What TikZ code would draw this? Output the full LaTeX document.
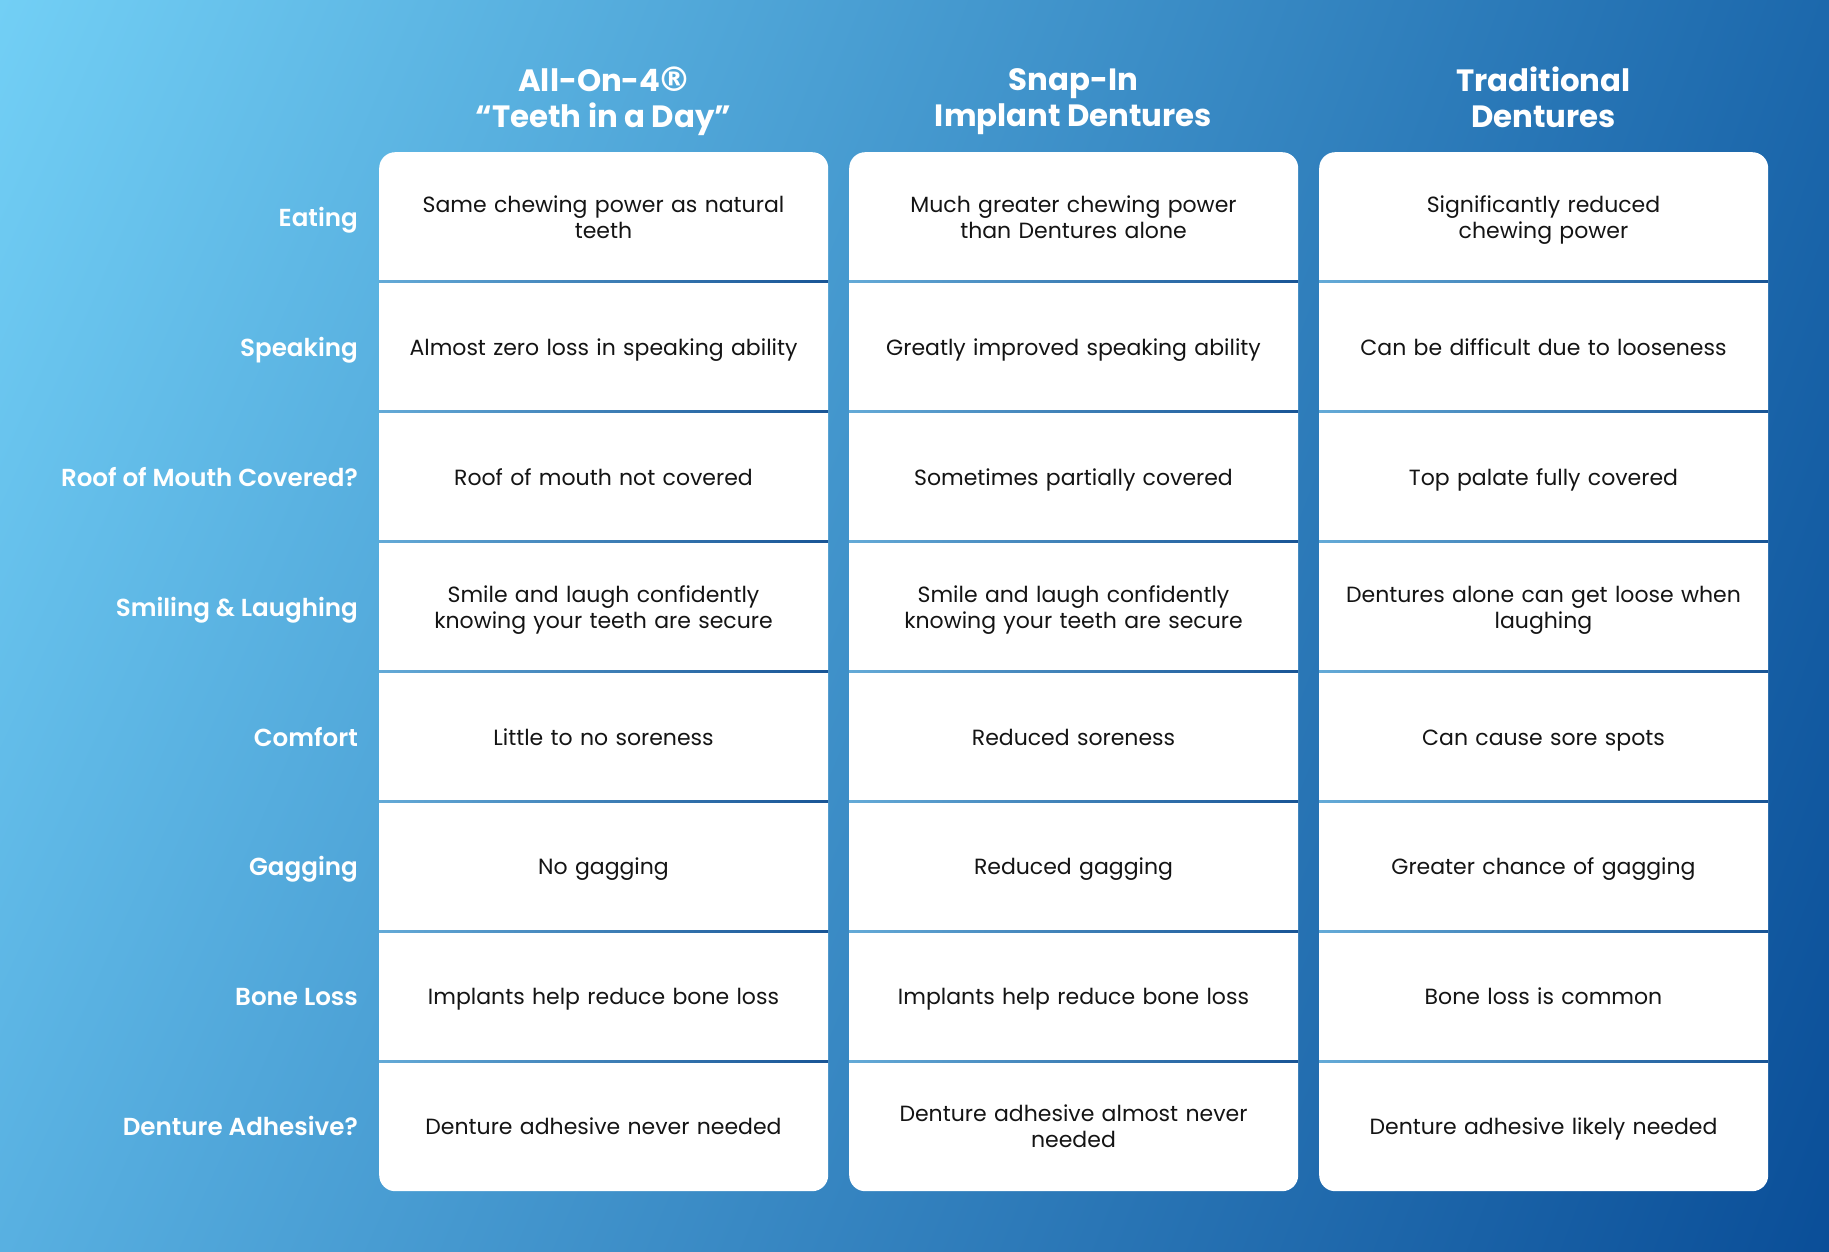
\documentclass[tikz,border=0pt]{standalone}
\usepackage{fontspec}
\setmainfont{Poppins}
\newfontfamily\semifont{Poppins SemiBold}
\newfontfamily\dejavu{DejaVu Sans}
\usetikzlibrary{shadings}
\definecolor{bgTL}{RGB}{114,207,245}
\definecolor{bgTR}{RGB}{28,104,172}
\definecolor{bgBL}{RGB}{88,176,225}
\definecolor{bgBR}{RGB}{10,78,152}
\definecolor{sepL}{RGB}{100,170,215}
\definecolor{sepR}{RGB}{25,85,150}
\definecolor{celltext}{RGB}{20,20,20}
\begin{document}
\begin{tikzpicture}[x=1pt,y=-1pt,
  cell/.style={text width=430pt, align=center, inner sep=0pt, font=\fontsize{22}{26}\selectfont, text=celltext, execute at begin node=\strut, execute at end node=\strut},
  lab/.style={anchor=east, inner sep=0pt, text=white, font=\fontsize{24.6}{30}\selectfont\semifont, execute at begin node=\strut},
  head/.style={align=center, inner sep=0pt, text=white, font=\fontsize{30.8}{36}\selectfont\bfseries, execute at begin node=\strut, execute at end node=\strut},
  card/.style={fill=white, rounded corners=16pt, draw=none, inner sep=0pt, anchor=north west, minimum width=449pt, minimum height=1039pt},
  sepline/.style={left color=sepL, right color=sepR, draw=none}]
\shade[upper left=bgTL, upper right=bgTR, lower left=bgBL, lower right=bgBR] (0,0) rectangle (1829,1252);
\useasboundingbox (0,0) rectangle (1829,1252);
% cards
\node[card] (card1) at (379,152) {};
\node[card] (card2) at (849,152) {};
\node[card] (card3) at (1319,152) {};
% separators
\foreach \x in {379,849,1319}{
  \foreach \i in {1,...,7}{
    \pgfmathsetmacro{\yy}{152+129.875*\i}
    \shade[sepline] (\x,\yy-1) rectangle (\x+449,\yy+1);
  }
}
% headers
\node[head] (h1) at (603.5,102.5) {All-On-4\kern-3pt{\dejavu\bfseries\fontsize{34}{36}\selectfont ®}\kern-3pt\\“Teeth in a Day”};
\node[head] (h2) at (1073.5,102.5) {Snap-In\\Implant Dentures};
\node[head] (h3) at (1543.5,102.5) {Traditional\\Dentures};
% labels
\node[lab] (l1) at (358,220.5) {Eating};
\node[lab] (l2) at (358,350.5) {Speaking};
\node[lab] (l3) at (358,480.5) {Roof of Mouth Covered?};
\node[lab] (l4) at (358,610.5) {Smiling \& Laughing};
\node[lab] (l5) at (358,740.5) {Comfort};
\node[lab] (l6) at (358,869.5) {Gagging};
\node[lab] (l7) at (358,999.5) {Bone Loss};
\node[lab] (l8) at (358,1129.5) {Denture Adhesive?};
% column 1
\node[cell] (a1) at (603.5,220.5) {Same chewing power as natural\\teeth};
\node[cell] (a2) at (603.5,350.5) {Almost zero loss in speaking ability};
\node[cell] (a3) at (603.5,480.5) {Roof of mouth not covered};
\node[cell] (a4) at (603.5,610.5) {Smile and laugh confidently\\knowing your teeth are secure};
\node[cell] (a5) at (603.5,740.5) {Little to no soreness};
\node[cell] (a6) at (603.5,869.5) {No gagging};
\node[cell] (a7) at (603.5,999.5) {Implants help reduce bone loss};
\node[cell] (a8) at (603.5,1129.5) {Denture adhesive never needed};
% column 2
\node[cell] (b1) at (1073.5,220.5) {Much greater chewing power\\than Dentures alone};
\node[cell] (b2) at (1073.5,350.5) {Greatly improved speaking ability};
\node[cell] (b3) at (1073.5,480.5) {Sometimes partially covered};
\node[cell] (b4) at (1073.5,610.5) {Smile and laugh confidently\\knowing your teeth are secure};
\node[cell] (b5) at (1073.5,740.5) {Reduced soreness};
\node[cell] (b6) at (1073.5,869.5) {Reduced gagging};
\node[cell] (b7) at (1073.5,999.5) {Implants help reduce bone loss};
\node[cell] (b8) at (1073.5,1129.5) {Denture adhesive almost never\\needed};
% column 3
\node[cell] (c1) at (1543.5,220.5) {Significantly reduced\\chewing power};
\node[cell] (c2) at (1543.5,350.5) {Can be difficult due to looseness};
\node[cell] (c3) at (1543.5,480.5) {Top palate fully covered};
\node[cell] (c4) at (1543.5,610.5) {Dentures alone can get loose when\\laughing};
\node[cell] (c5) at (1543.5,740.5) {Can cause sore spots};
\node[cell] (c6) at (1543.5,869.5) {Greater chance of gagging};
\node[cell] (c7) at (1543.5,999.5) {Bone loss is common};
\node[cell] (c8) at (1543.5,1129.5) {Denture adhesive likely needed};
\end{tikzpicture}
\end{document}
